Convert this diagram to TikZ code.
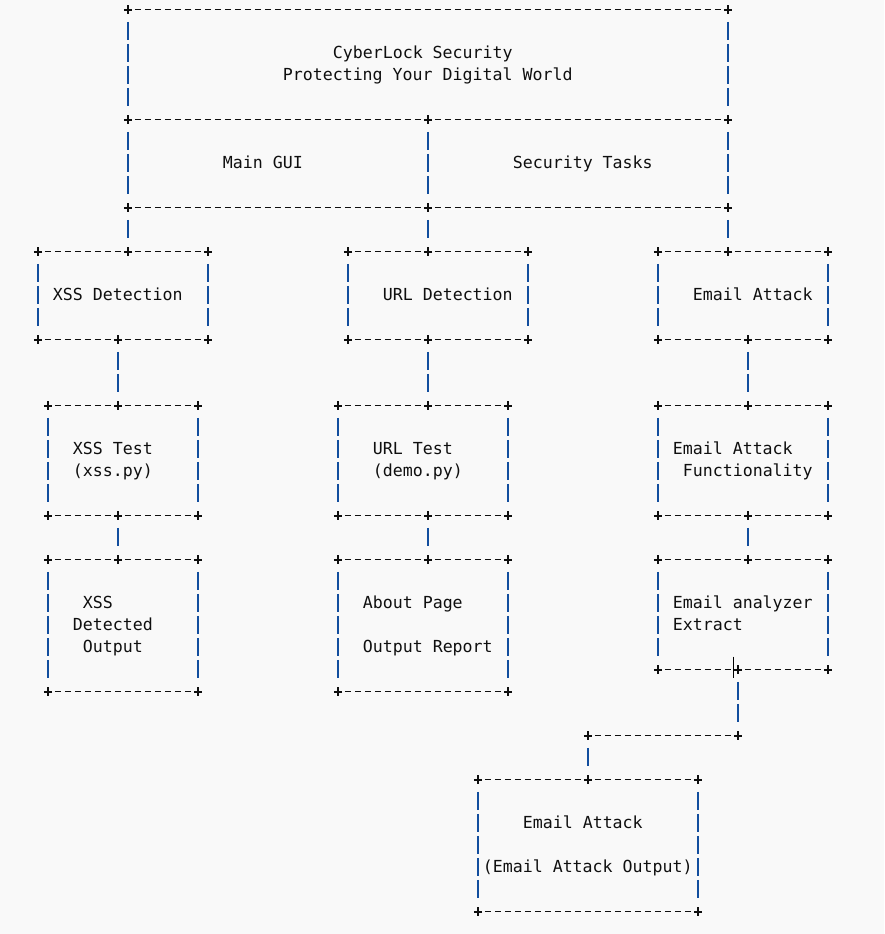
\documentclass[tikz,border=0pt]{standalone}
\usepackage{fontspec}
\newfontfamily\monof{DejaVu Sans Mono}
\definecolor{bgc}{RGB}{249,249,249}
\definecolor{barc}{RGB}{18,78,158}
\definecolor{dashc}{RGB}{15,15,15}
\definecolor{textc}{RGB}{15,15,15}
\tikzset{
  plusglyph/.pic={\draw[line width=1.6pt,dashc] (-4,0)--(4,0) (0,-4.6)--(0,4.6);},
  hd/.style={draw=dashc,line width=1.3pt,shorten <=7pt,shorten >=7pt,dash pattern=on 6pt off 4pt},
  vb/.style={draw=barc,line width=1.8pt,shorten <=12pt,shorten >=14pt,dash pattern=on 18pt off 4pt},
  txt/.style={anchor=base west,inner sep=0pt,outer sep=0pt,text=textc,font=\monof\fontsize{16.6}{20}\selectfont}
}
\newcommand{\jn}[3]{\coordinate (#1) at ({37.8+10*#2},{9.8+22*#3}); \pic at (#1) {plusglyph};}
\newcommand{\txt}[4]{\node[txt] (#1) at ({37.8+10*#2-5},{9.8+22*#3+4.5}) {#4};}
\begin{document}
\begin{tikzpicture}[x=1pt,y=-1pt]
\fill[bgc] (0,0) rectangle (884,934);
\useasboundingbox (0,0) rectangle (884,934);
% junctions
\jn{m-tl}{9}{0}\jn{m-tr}{69}{0}
\jn{m-ml}{9}{5}\jn{m-mm}{39}{5}\jn{m-mr}{69}{5}
\jn{m-bl}{9}{9}\jn{m-bm}{39}{9}\jn{m-br}{69}{9}
\jn{a-tl}{0}{11}\jn{a-tm}{9}{11}\jn{a-tr}{17}{11}
\jn{a-bl}{0}{15}\jn{a-bm}{8}{15}\jn{a-br}{17}{15}
\jn{b-tl}{31}{11}\jn{b-tm}{39}{11}\jn{b-tr}{49}{11}
\jn{b-bl}{31}{15}\jn{b-bm}{39}{15}\jn{b-br}{49}{15}
\jn{c-tl}{62}{11}\jn{c-tm}{69}{11}\jn{c-tr}{79}{11}
\jn{c-bl}{62}{15}\jn{c-bm}{71}{15}\jn{c-br}{79}{15}
\jn{d-tl}{1}{18}\jn{d-tm}{8}{18}\jn{d-tr}{16}{18}
\jn{d-bl}{1}{23}\jn{d-bm}{8}{23}\jn{d-br}{16}{23}
\jn{e-tl}{30}{18}\jn{e-tm}{39}{18}\jn{e-tr}{47}{18}
\jn{e-bl}{30}{23}\jn{e-bm}{39}{23}\jn{e-br}{47}{23}
\jn{f-tl}{62}{18}\jn{f-tm}{71}{18}\jn{f-tr}{79}{18}
\jn{f-bl}{62}{23}\jn{f-bm}{71}{23}\jn{f-br}{79}{23}
\jn{g-tl}{1}{25}\jn{g-tm}{8}{25}\jn{g-tr}{16}{25}
\jn{g-bl}{1}{31}\jn{g-br}{16}{31}
\jn{h-tl}{30}{25}\jn{h-tm}{39}{25}\jn{h-tr}{47}{25}
\jn{h-bl}{30}{31}\jn{h-br}{47}{31}
\jn{i-tl}{62}{25}\jn{i-tm}{71}{25}\jn{i-tr}{79}{25}
\jn{i-bl}{62}{30}\jn{i-bm}{70}{30}\jn{i-br}{79}{30}
\jn{k-l}{55}{33}\jn{k-r}{70}{33}
\jn{j-tl}{44}{35}\jn{j-tm}{55}{35}\jn{j-tr}{66}{35}
\jn{j-bl}{44}{41}\jn{j-br}{66}{41}
% horizontal dashed rules
\draw[hd] (m-tl)--(m-tr);
\draw[hd] (m-ml)--(m-mm); \draw[hd] (m-mm)--(m-mr);
\draw[hd] (m-bl)--(m-bm); \draw[hd] (m-bm)--(m-br);
\foreach \b in {a,b,c,d,e,f,g,h,i}{
  \draw[hd] (\b-tl)--(\b-tm); \draw[hd] (\b-tm)--(\b-tr);
}
\foreach \b in {a,b,c,d,e,f,i}{
  \draw[hd] (\b-bl)--(\b-bm); \draw[hd] (\b-bm)--(\b-br);
}
\draw[hd] (g-bl)--(g-br);
\draw[hd] (h-bl)--(h-br);
\draw[hd] (k-l)--(k-r);
\draw[hd] (j-tl)--(j-tm); \draw[hd] (j-tm)--(j-tr);
\draw[hd] (j-bl)--(j-br);
% vertical bars
\draw[vb] (m-tl)--(m-ml); \draw[vb] (m-tr)--(m-mr);
\draw[vb] (m-ml)--(m-bl); \draw[vb] (m-mm)--(m-bm); \draw[vb] (m-mr)--(m-br);
\draw[vb] (m-bl)--(a-tm); \draw[vb] (m-bm)--(b-tm); \draw[vb] (m-br)--(c-tm);
\foreach \b in {a,b,c,d,e,f,g,h,i,j}{
  \draw[vb] (\b-tl)--(\b-bl); \draw[vb] (\b-tr)--(\b-br);
}
\draw[vb] (a-bm)--(d-tm); \draw[vb] (b-bm)--(e-tm); \draw[vb] (c-bm)--(f-tm);
\draw[vb] (d-bm)--(g-tm); \draw[vb] (e-bm)--(h-tm); \draw[vb] (f-bm)--(i-tm);
\draw[vb] (i-bm)--(k-r); \draw[vb] (k-l)--(j-tm);
% text cursor
\coordinate (cur-t) at (733.5,656.7);
\coordinate (cur-b) at (733.5,678.3);
\draw[black,line width=0.9pt] (cur-t)--(cur-b);
% texts
\txt{t1}{30}{2}{CyberLock Security}
\txt{t2}{25}{3}{Protecting Your Digital World}
\txt{t3}{19}{7}{Main GUI}
\txt{t4}{48}{7}{Security Tasks}
\txt{t5}{2}{13}{XSS Detection}
\txt{t6}{35}{13}{URL Detection}
\txt{t7}{66}{13}{Email Attack}
\txt{t8}{4}{20}{XSS Test}
\txt{t9}{4}{21}{(xss.py)}
\txt{t10}{34}{20}{URL Test}
\txt{t11}{34}{21}{(demo.py)}
\txt{t12}{64}{20}{Email Attack}
\txt{t13}{65}{21}{Functionality}
\txt{t14}{5}{27}{XSS}
\txt{t15}{4}{28}{Detected}
\txt{t16}{5}{29}{Output}
\txt{t17}{33}{27}{About Page}
\txt{t18}{33}{29}{Output Report}
\txt{t19}{64}{27}{Email analyzer}
\txt{t20}{64}{28}{Extract}
\txt{t21}{49}{37}{Email Attack}
\txt{t22}{45}{39}{(Email Attack Output)}
\end{tikzpicture}
\end{document}
